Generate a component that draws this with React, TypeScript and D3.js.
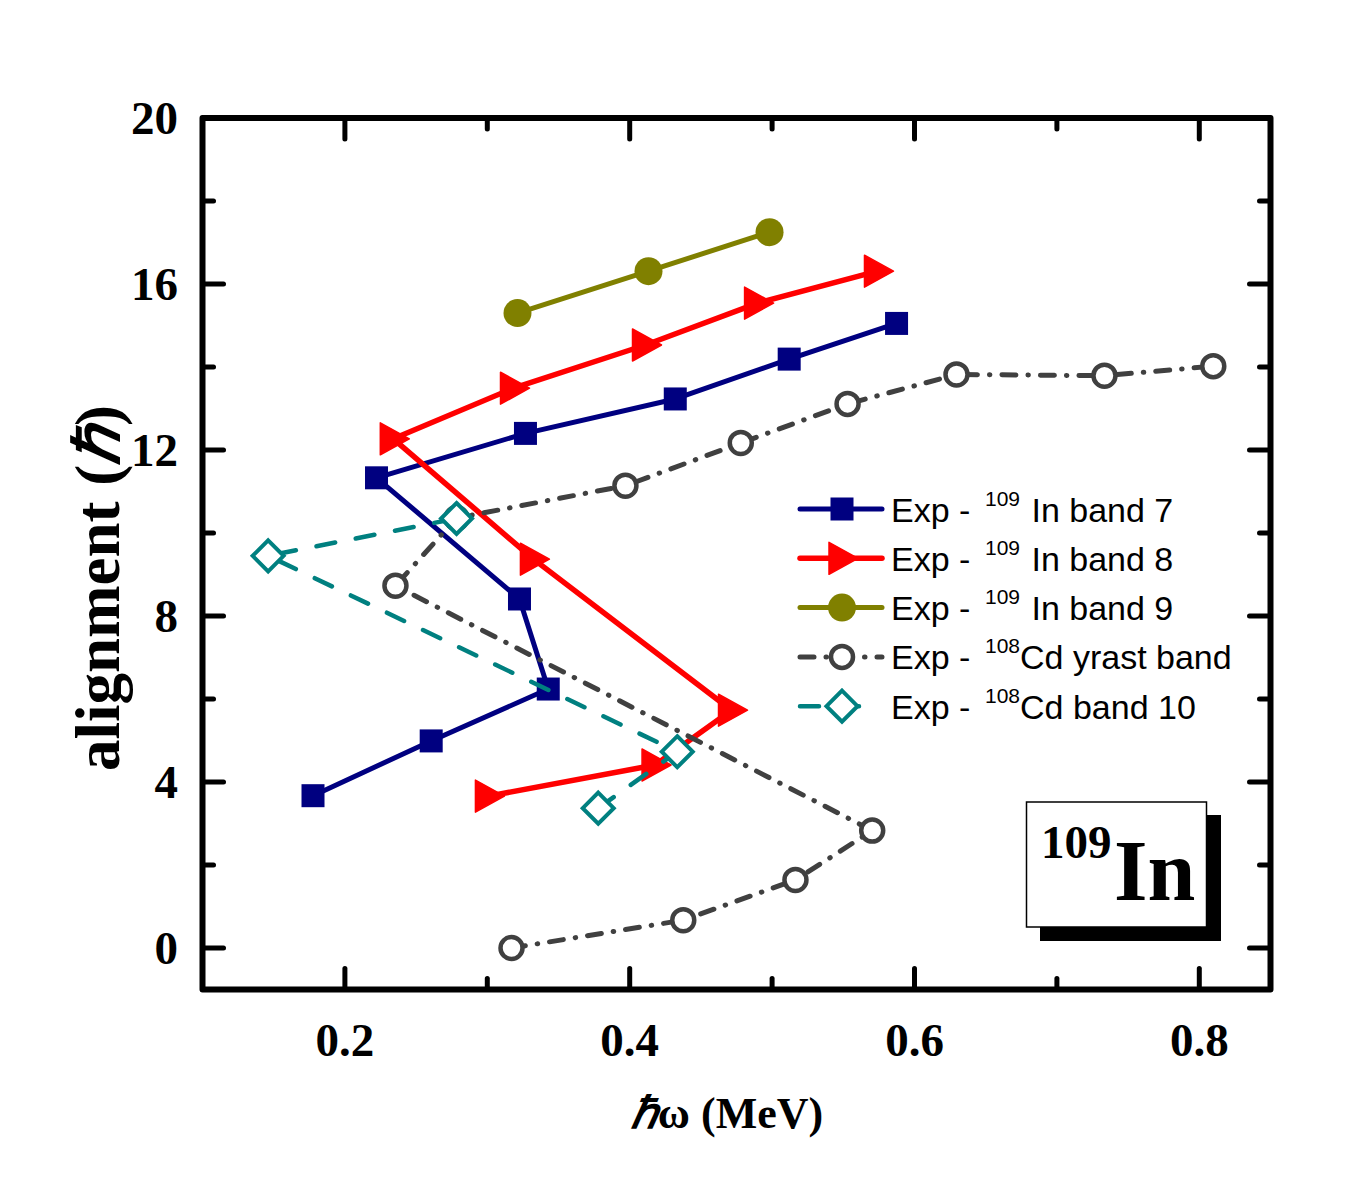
import React from "react";
import * as d3 from "d3";

// Alignment vs. rotational frequency for bands in 109In and 108Cd
const band7X = [0.1776, 0.2606, 0.3428, 0.3226, 0.2222, 0.3268, 0.432, 0.512, 0.5874];
const band7Y = [3.67, 4.99, 6.24, 8.41, 11.33, 12.4, 13.23, 14.19, 15.05];
const band8X = [0.3008, 0.4178, 0.4715, 0.3324, 0.234, 0.3184, 0.4111, 0.4898, 0.574];
const band8Y = [3.66, 4.41, 5.73, 9.37, 12.27, 13.49, 14.53, 15.54, 16.31];
const band9X = [0.3212, 0.4132, 0.4982];
const band9Y = [15.3, 16.31, 17.25];
const yrastX = [0.317, 0.4376, 0.5164, 0.5703, 0.2355, 0.2784, 0.397, 0.478, 0.553, 0.6295, 0.7334, 0.8098];
const yrastY = [0.0, 0.67, 1.64, 2.83, 8.73, 10.36, 11.14, 12.17, 13.11, 13.82, 13.79, 14.02];
const band10X = [0.3779, 0.4334, 0.1461, 0.2784];
const band10Y = [3.37, 4.73, 9.45, 10.35];

const xMajorTicks = [0.2, 0.4, 0.6, 0.8];
const xMinorTicks = [0.3, 0.5, 0.7];
const yMajorTicks = [0, 4, 8, 12, 16, 20];
const yMinorTicks = [2, 6, 10, 14, 18];

const legendLabels = [
  { pre: "Exp - ", sup: "109", post: " In band 7", supX: 985, postX: 1022 },
  { pre: "Exp - ", sup: "109", post: " In band 8", supX: 985, postX: 1022 },
  { pre: "Exp - ", sup: "109", post: " In band 9", supX: 985, postX: 1022 },
  { pre: "Exp - ", sup: "108", post: "Cd yrast band", supX: 985, postX: 1020 },
  { pre: "Exp - ", sup: "108", post: "Cd band 10", supX: 985, postX: 1020 },
];

type Marker = "square" | "triangle" | "circle" | "ocircle" | "diamond";

interface Series {
  xs: number[];
  ys: number[];
  color: string;
  width: number;
  dash?: string;
  marker: Marker;
}

const series: Series[] = [
  { xs: band7X, ys: band7Y, color: "#000080", width: 5, marker: "square" },
  { xs: band8X, ys: band8Y, color: "#ff0000", width: 5.5, marker: "triangle" },
  { xs: band9X, ys: band9Y, color: "#808000", width: 5, marker: "circle" },
  { xs: yrastX, ys: yrastY, color: "#404040", width: 5, dash: "14 12 0.5 12", marker: "ocircle" },
  { xs: band10X, ys: band10Y, color: "#008080", width: 4.5, dash: "19 21", marker: "diamond" },
];

const serif = "'Liberation Serif', 'Times New Roman', serif";
const sans = "'Liberation Sans', Arial, sans-serif";

const x = d3.scaleLinear().domain([0.1, 0.85]).range([202.5, 1270.5]);
const y = d3.scaleLinear().domain([-1, 20]).range([989.5, 118]);

function MarkerShape({ kind, cx, cy, color }: { kind: Marker; cx: number; cy: number; color: string }) {
  switch (kind) {
    case "square":
      return <rect x={cx - 11.5} y={cy - 11.5} width={23} height={23} fill={color} />;
    case "triangle":
      return (
        <path
          d={`M${cx - 13},${cy - 16} L${cx + 16},${cy} L${cx - 13},${cy + 16} Z`}
          fill={color}
          stroke={color}
          strokeWidth={1.5}
          strokeLinejoin="round"
        />
      );
    case "circle":
      return <circle cx={cx} cy={cy} r={14} fill={color} />;
    case "ocircle":
      return <circle cx={cx} cy={cy} r={11} fill="#fff" stroke={color} strokeWidth={4.5} />;
    case "diamond":
      return (
        <path
          d={`M${cx},${cy - 15.5} L${cx + 15.5},${cy} L${cx},${cy + 15.5} L${cx - 15.5},${cy} Z`}
          fill="#fff"
          stroke={color}
          strokeWidth={4}
        />
      );
  }
}

export default function App() {
  const line = d3
    .line<[number, number]>()
    .x((d) => x(d[0]))
    .y((d) => y(d[1]));

  const left = x(0.1);
  const right = x(0.85);
  const top = y(20);
  const bottom = y(-1);

  return (
    <svg width={1350} height={1200} style={{ display: "block", position: "absolute", left: 0, top: 0 }}>
      <rect width={1350} height={1200} fill="#fff" />

      {/* data series */}
      {series.map((s, i) => {
        const pts = s.xs.map((v, k) => [v, s.ys[k]] as [number, number]);
        return (
          <g key={i}>
            <path
              d={line(pts) || ""}
              fill="none"
              stroke={s.color}
              strokeWidth={s.width}
              strokeDasharray={s.dash}
              strokeLinecap="round"
              strokeLinejoin="round"
            />
            {pts.map((p, k) => (
              <MarkerShape key={k} kind={s.marker} cx={x(p[0])} cy={y(p[1])} color={s.color} />
            ))}
          </g>
        );
      })}

      {/* ticks */}
      <g stroke="#000" strokeWidth={5} strokeLinecap="round">
        {xMajorTicks.map((t) => (
          <g key={"xM" + t}>
            <line x1={x(t)} x2={x(t)} y1={bottom} y2={bottom - 21} />
            <line x1={x(t)} x2={x(t)} y1={top} y2={top + 21} />
          </g>
        ))}
        {xMinorTicks.map((t) => (
          <g key={"xm" + t}>
            <line x1={x(t)} x2={x(t)} y1={bottom} y2={bottom - 11} />
            <line x1={x(t)} x2={x(t)} y1={top} y2={top + 11} />
          </g>
        ))}
        {yMajorTicks.map((t) => (
          <g key={"yM" + t}>
            <line x1={left} x2={left + 21} y1={y(t)} y2={y(t)} />
            <line x1={right} x2={right - 21} y1={y(t)} y2={y(t)} />
          </g>
        ))}
        {yMinorTicks.map((t) => (
          <g key={"ym" + t}>
            <line x1={left} x2={left + 11} y1={y(t)} y2={y(t)} />
            <line x1={right} x2={right - 11} y1={y(t)} y2={y(t)} />
          </g>
        ))}
      </g>

      {/* frame */}
      <rect
        x={left}
        y={top}
        width={right - left}
        height={bottom - top}
        fill="none"
        stroke="#000"
        strokeWidth={6}
        strokeLinejoin="round"
      />

      {/* tick labels */}
      <g fontFamily={serif} fontWeight="bold" fontSize={47} fill="#000">
        {xMajorTicks.map((t) => (
          <text key={"xl" + t} x={x(t)} y={1056} textAnchor="middle">
            {d3.format(".1f")(t)}
          </text>
        ))}
        {yMajorTicks.map((t) => (
          <text key={"yl" + t} x={178} y={y(t) + 16} textAnchor="end">
            {t}
          </text>
        ))}
      </g>

      {/* axis titles */}
      <text
        x={727}
        y={1128}
        textAnchor="middle"
        fontFamily={serif}
        fontWeight="bold"
        fontSize={44}
      >
        <tspan fontStyle="italic">ℏ</tspan>
        <tspan>ω (MeV)</tspan>
      </text>
      <text
        transform="translate(119,588) rotate(-90)"
        textAnchor="middle"
        fontFamily={serif}
        fontWeight="bold"
        fontSize={63}
      >
        <tspan>alignment (</tspan>
        <tspan fontStyle="italic">ℏ</tspan>
        <tspan>)</tspan>
      </text>

      {/* legend */}
      {series.map((s, i) => {
        const ly = 509 + i * 49.3;
        const lab = legendLabels[i];
        const x2 = s.marker === "diamond" ? 870 : 882;
        return (
          <g key={"lg" + i}>
            <line
              x1={800}
              x2={x2}
              y1={ly}
              y2={ly}
              stroke={s.color}
              strokeWidth={s.width}
              strokeDasharray={s.dash}
              strokeLinecap="round"
            />
            <MarkerShape kind={s.marker} cx={842} cy={ly} color={s.color} />
            <text y={ly + 12.5} fontFamily={sans} fontSize={34} fill="#000">
              <tspan x={891}>{lab.pre}</tspan>
              <tspan x={lab.supX} dy={-16} fontSize={21}>
                {lab.sup}
              </tspan>
              <tspan x={lab.postX} dy={16}>
                {lab.post}
              </tspan>
            </text>
          </g>
        );
      })}

      {/* nucleus label box */}
      <rect x={1040} y={815} width={181} height={126} fill="#000" />
      <rect x={1026.5} y={802} width={180} height={125} fill="#fff" stroke="#000" strokeWidth={1.5} />
      <text fontFamily={serif} fontWeight="bold" fill="#000">
        <tspan x={1041} y={858} fontSize={47}>
          109
        </tspan>
        <tspan x={1114} y={900} fontSize={86}>
          In
        </tspan>
      </text>
    </svg>
  );
}
